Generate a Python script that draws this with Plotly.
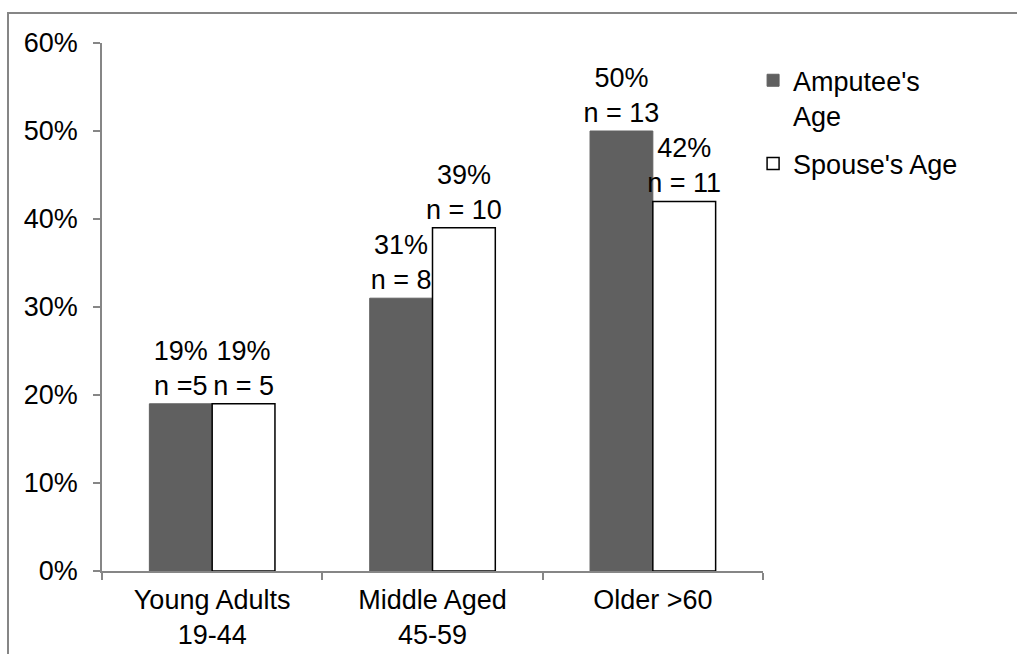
import plotly.graph_objects as go

# Age groups and share of respondents in each
categories = ["Young Adults<br>19-44", "Middle Aged<br>45-59", "Older >60"]
amputee_pct = [19, 31, 50]
spouse_pct = [19, 39, 42]
amputee_labels = ["19%<br>n =5", "31%<br>n = 8", "50%<br>n = 13"]
spouse_labels = ["19%<br>n = 5", "39%<br>n = 10", "42%<br>n = 11"]
y_ticks = [0, 10, 20, 30, 40, 50, 60]
y_tick_text = [f"{v}%" for v in y_ticks]

FONT = "Liberation Sans, Arial, sans-serif"
FS = 27
AXIS_GREY = "#868686"

fig = go.Figure()
fig.add_trace(go.Bar(
    name="Amputee's<br>Age", x=categories, y=amputee_pct,
    legendgroup="amputee",
    marker=dict(color="#606060", line=dict(color="#606060", width=1)),
    text=amputee_labels, textposition="outside", cliponaxis=False,
    constraintext="none",
    textfont=dict(size=FS, color="black", family=FONT),
))
fig.add_trace(go.Bar(
    name="Spouse's Age", x=categories, y=spouse_pct,
    legendgroup="spouse",
    marker=dict(color="white", line=dict(color="black", width=1.5)),
    text=spouse_labels, textposition="outside", cliponaxis=False,
    constraintext="none",
    textfont=dict(size=FS, color="black", family=FONT),
))

fig.update_layout(
    width=1017, height=654,
    margin=dict(l=102, r=254, t=43, b=83, autoexpand=False),
    paper_bgcolor="white", plot_bgcolor="white",
    font=dict(family=FONT, size=FS, color="black"),
    barmode="group", bargap=0.43, bargroupgap=0,
    uniformtext=dict(mode=False),
    showlegend=True,
    legend=dict(
        x=0.985, xanchor="left", y=0.975, yanchor="top",
        font=dict(size=FS, family=FONT),
        traceorder="grouped", tracegroupgap=10, valign="top",
        bgcolor="rgba(0,0,0,0)", itemwidth=30,
    ),
    xaxis=dict(
        automargin=False,
        showline=True, linecolor=AXIS_GREY, linewidth=1.5,
        ticks="outside", tickson="boundaries", ticklen=7, tickwidth=1.5,
        tickcolor=AXIS_GREY, showgrid=False, zeroline=False,
        tickfont=dict(size=FS, family=FONT),
        ticklabelstandoff=4,
    ),
    yaxis=dict(
        automargin=False,
        range=[0, 60], tickmode="array", tickvals=y_ticks, ticktext=y_tick_text,
        showline=True, linecolor=AXIS_GREY, linewidth=1.5,
        ticks="outside", ticklen=7, tickwidth=1.5, tickcolor=AXIS_GREY,
        showgrid=False, zeroline=False,
        tickfont=dict(size=FS, family=FONT),
        ticklabelstandoff=10,
    ),
    shapes=[dict(
        type="rect", xref="paper", yref="paper",
        x0=-0.1422, x1=1.45, y0=-0.2, y1=1.0568,
        line=dict(color=AXIS_GREY, width=2), fillcolor="rgba(0,0,0,0)",
        layer="below",
    )],
)

fig.write_html("out.html")
